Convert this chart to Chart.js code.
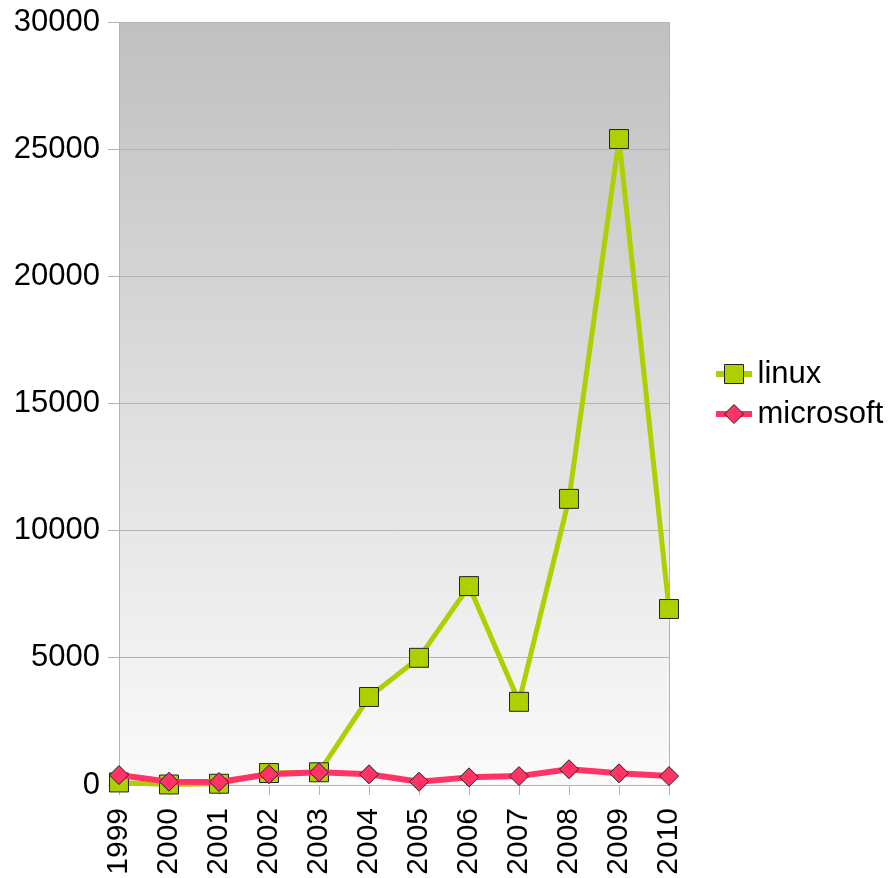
<!DOCTYPE html>
<html>
<head>
<meta charset="utf-8">
<script src="https://cdn.jsdelivr.net/npm/chart.js@4"></script>
<style>
  html, body { margin: 0; padding: 0; background: #ffffff; }
  #wrap { width: 892px; height: 878px; position: relative; }
</style>
</head>
<body>
<div id="wrap"><canvas id="c" width="892" height="878"></canvas></div>
<script>
const categories = ['1999','2000','2001','2002','2003','2004','2005','2006','2007','2008','2009','2010'];
const linuxValues = [100, 20, 50, 470, 500, 3460, 5000, 7820, 3270, 11250, 25400, 6920];
const microsoftValues = [390, 130, 120, 420, 500, 420, 130, 300, 350, 620, 460, 350];
const seriesNames = ['linux', 'microsoft'];
const yTicks = { min: 0, max: 30000, step: 5000 };

const FONT = 'Liberation Sans, Arial, sans-serif';
const FS = 31;
const GREEN = '#aecf00';
const PINK = '#ff3366';
const EDGE = '#222222';

function legendIcon(color, style) {
  const c = document.createElement('canvas');
  c.width = 84; c.height = 24;
  const g = c.getContext('2d');
  g.strokeStyle = color; g.lineWidth = 6;
  g.beginPath(); g.moveTo(48, 12); g.lineTo(84, 12); g.stroke();
  g.fillStyle = color; g.strokeStyle = EDGE; g.lineWidth = 1;
  const cx = 66, cy = 12;
  if (style === 'rect') {
    g.beginPath(); g.rect(cx - 9.5, cy - 9.5, 19, 19); g.fill(); g.stroke();
  } else {
    g.beginPath(); g.moveTo(cx - 9.5, cy); g.lineTo(cx, cy - 9.5); g.lineTo(cx + 9.5, cy); g.lineTo(cx, cy + 9.5); g.closePath(); g.fill(); g.stroke();
  }
  return c;
}
const icons = [legendIcon(GREEN, 'rect'), legendIcon(PINK, 'rectRot')];

const bgPlugin = {
  id: 'bg',
  afterLayout(chart) {
    const lg = chart.legend;
    if (lg) {
      const shift = 56;
      lg.top -= shift; lg.bottom -= shift;
    }
  },
  beforeDraw(chart) {
    const {ctx, chartArea: a} = chart;
    const grad = ctx.createLinearGradient(0, a.top, 0, a.bottom);
    grad.addColorStop(0, '#c0c0c0');
    grad.addColorStop(1, '#fbfbfb');
    ctx.save();
    ctx.fillStyle = grad;
    ctx.fillRect(a.left, a.top, a.right - a.left, a.bottom - a.top);
    ctx.strokeStyle = '#b3b3b3';
    ctx.lineWidth = 1;
    ctx.strokeRect(Math.round(a.left) + 0.5, Math.round(a.top) + 0.5, Math.round(a.right - a.left), Math.round(a.bottom - a.top));
    ctx.restore();
  }
};

new Chart(document.getElementById('c'), {
  type: 'line',
  data: {
    labels: categories,
    datasets: [
      {
        label: seriesNames[0], data: linuxValues, order: 2,
        borderColor: GREEN, backgroundColor: GREEN, borderWidth: 5, borderJoinStyle: 'round',
        pointStyle: 'rect', pointRadius: 13.4, pointHoverRadius: 13.4,
        pointBackgroundColor: GREEN, pointBorderColor: EDGE, pointBorderWidth: 1,
        tension: 0, clip: false, fill: false
      },
      {
        label: seriesNames[1], data: microsoftValues, order: 1,
        borderColor: PINK, backgroundColor: PINK, borderWidth: 6, borderJoinStyle: 'round',
        pointStyle: 'rectRot', pointRadius: 9.5, pointHoverRadius: 9.5,
        pointBackgroundColor: PINK, pointBorderColor: EDGE, pointBorderWidth: 1,
        tension: 0, clip: false, fill: false
      }
    ]
  },
  options: {
    responsive: false,
    animation: false,
    events: [],
    layout: { padding: { top: 22, left: 0, right: 0, bottom: 0 } },
    plugins: {
      tooltip: { enabled: false },
      legend: {
        position: 'right',
        labels: {
          font: { family: FONT, size: FS },
          color: '#000000',
          usePointStyle: true,
          pointStyleWidth: 64,
          padding: 9,
          sort: (a, b) => a.datasetIndex - b.datasetIndex,
          generateLabels: (chart) => chart.data.datasets.map((ds, i) => ({
            text: ds.label, datasetIndex: i, pointStyle: icons[i],
            fillStyle: ds.borderColor, strokeStyle: ds.borderColor, lineWidth: 0, hidden: false
          }))
        }
      }
    },
    scales: {
      x: {
        type: 'category',
        offset: false,
        afterFit: (s) => { s.height = 93; s.paddingLeft = 0; s.paddingRight = 0; },
        grid: { drawOnChartArea: false, drawTicks: true, tickLength: 10, color: '#b3b3b3' },
        border: { display: true, color: '#b3b3b3' },
        ticks: {
          maxRotation: 90, minRotation: 90, autoSkip: false,
          font: { family: FONT, size: 30 }, color: '#000000', padding: 13
        }
      },
      y: {
        min: yTicks.min, max: yTicks.max,
        afterFit: (s) => { s.width = 119; s.paddingTop = 0; s.paddingBottom = 0; },
        grid: { color: '#b3b3b3', tickLength: 11, drawTicks: true },
        border: { display: true, color: '#b3b3b3' },
        ticks: {
          stepSize: yTicks.step,
          callback: (v) => String(v),
          font: { family: FONT, size: FS }, color: '#000000', padding: 8
        }
      }
    }
  },
  plugins: [bgPlugin]
});
</script>
</body>
</html>
